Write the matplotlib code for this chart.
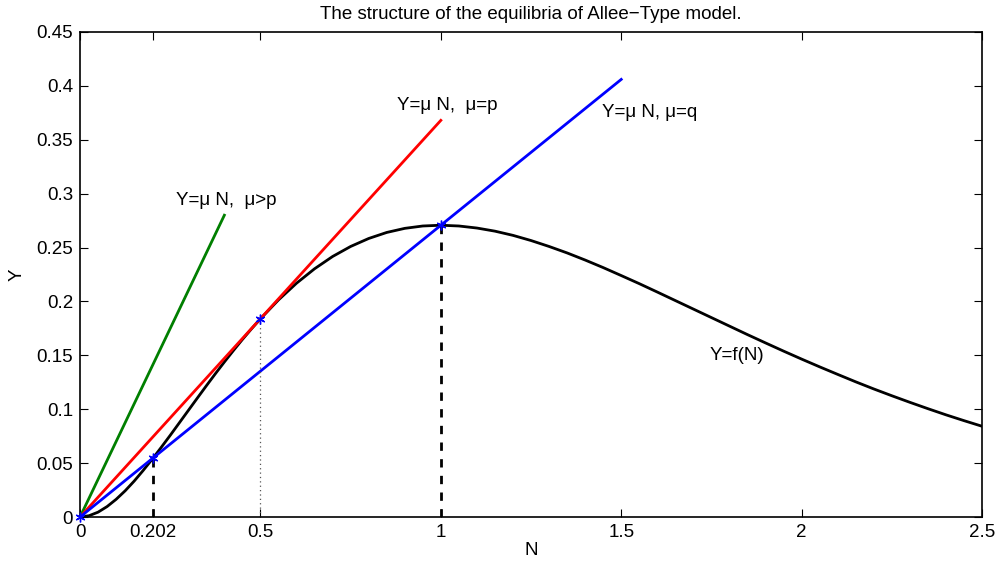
import matplotlib
matplotlib.use("Agg")
import matplotlib.pyplot as plt

plt.rcParams['font.family'] = ['Liberation Sans', 'DejaVu Sans']

# Y = f(N) (denser where it bends near the origin)
curve_N = [0.000, 0.025, 0.050, 0.075, 0.100, 0.125, 0.150, 0.175, 0.200, 0.225,
           0.250, 0.275, 0.300, 0.325, 0.350, 0.375, 0.400, 0.425, 0.450, 0.475,
           0.50, 0.55, 0.60, 0.65, 0.70, 0.75, 0.80, 0.85, 0.90, 0.95,
           1.00, 1.05, 1.10, 1.15, 1.20, 1.25, 1.30, 1.35, 1.40, 1.45,
           1.50, 1.55, 1.60, 1.65, 1.70, 1.75, 1.80, 1.85, 1.90, 1.95,
           2.00, 2.05, 2.10, 2.15, 2.20, 2.25, 2.30, 2.35, 2.40, 2.45, 2.50]
curve_Y = [0.0000, 0.0012, 0.0045, 0.0097, 0.0164, 0.0243, 0.0333, 0.0432, 0.0536, 0.0646,
           0.0758, 0.0873, 0.0988, 0.1103, 0.1217, 0.1329, 0.1438, 0.1544, 0.1647, 0.1745,
           0.1839, 0.2014, 0.2169, 0.2303, 0.2417, 0.2510, 0.2584, 0.2640, 0.2678, 0.2700,
           0.2707, 0.2700, 0.2681, 0.2652, 0.2613, 0.2565, 0.2510, 0.2450, 0.2384, 0.2314,
           0.2240, 0.2165, 0.2087, 0.2008, 0.1929, 0.1850, 0.1771, 0.1692, 0.1615, 0.1539,
           0.1465, 0.1393, 0.1323, 0.1254, 0.1188, 0.1125, 0.1064, 0.1005, 0.0948, 0.0894, 0.0842]

# straight lines Y = mu N
green_N = [0, 0.4]
green_Y = [0, 0.28]
red_N = [0, 1.0]
red_Y = [0, 0.368]
blue_N = [0, 1.5]
blue_Y = [0, 0.406]

# equilibria
eq_N = [0, 0.202, 0.5, 1.0]
eq_Y = [0, 0.0546, 0.184, 0.2707]

xticks = [0, 0.202, 0.5, 1, 1.5, 2, 2.5]
xticklabels = ['0', '0.202', '0.5', '1', '1.5', '2', '2.5']
yticks = [0, 0.05, 0.1, 0.15, 0.2, 0.25, 0.3, 0.35, 0.4, 0.45]
yticklabels = ['0', '0.05', '0.1', '0.15', '0.2', '0.25', '0.3', '0.35', '0.4', '0.45']

fs = 13.5

fig = plt.figure(figsize=(9.98, 5.63), dpi=100)
ax = fig.add_axes([0.0802, 0.0817, 0.9038, 0.8615])

ax.plot(curve_N, curve_Y, color='black', lw=2)
ax.plot(green_N, green_Y, color='#007f00', lw=2)
ax.plot(red_N, red_Y, color='red', lw=2)
ax.plot(blue_N, blue_Y, color='blue', lw=2)

# vertical guides
ax.plot([eq_N[1], eq_N[1]], [0, eq_Y[1]], color='black', lw=2, ls=(0, (3, 3)))
ax.plot([eq_N[3], eq_N[3]], [0, eq_Y[3]], color='black', lw=2, ls=(0, (3, 3)))
ax.plot([eq_N[2], eq_N[2]], [0, eq_Y[2]], color='#555555', lw=0.9, ls=(0, (1, 2.5)))

ax.plot(eq_N, eq_Y, ls='none', marker=(6, 2, 0), color='blue', markersize=7,
        markeredgewidth=1, clip_on=False, zorder=5)

ax.text(0.266, 0.294, 'Y=μ N,  μ>p', fontsize=fs, va='center')
ax.text(0.879, 0.382, 'Y=μ N,  μ=p', fontsize=fs, va='center')
ax.text(1.447, 0.375, 'Y=μ N, μ=q', fontsize=fs, va='center')
ax.text(1.746, 0.150, 'Y=f(N)', fontsize=fs, va='center')

ax.set_xlim(0, 2.5)
ax.set_ylim(0, 0.45)
ax.set_xticks(xticks)
ax.set_xticklabels(xticklabels)
ax.set_yticks(yticks)
ax.set_yticklabels(yticklabels)
ax.tick_params(direction='in', length=6, labelsize=fs, top=True, right=True, pad=5)
for s in ax.spines.values():
    s.set_linewidth(1.2)

ax.set_xlabel('N', fontsize=fs, labelpad=1)
ax.set_ylabel('Y', fontsize=fs, labelpad=8)
ax.set_title('The structure of the equilibria of Allee\u2212Type model.', fontsize=fs, pad=9)

fig.savefig('out.png', dpi=100)
